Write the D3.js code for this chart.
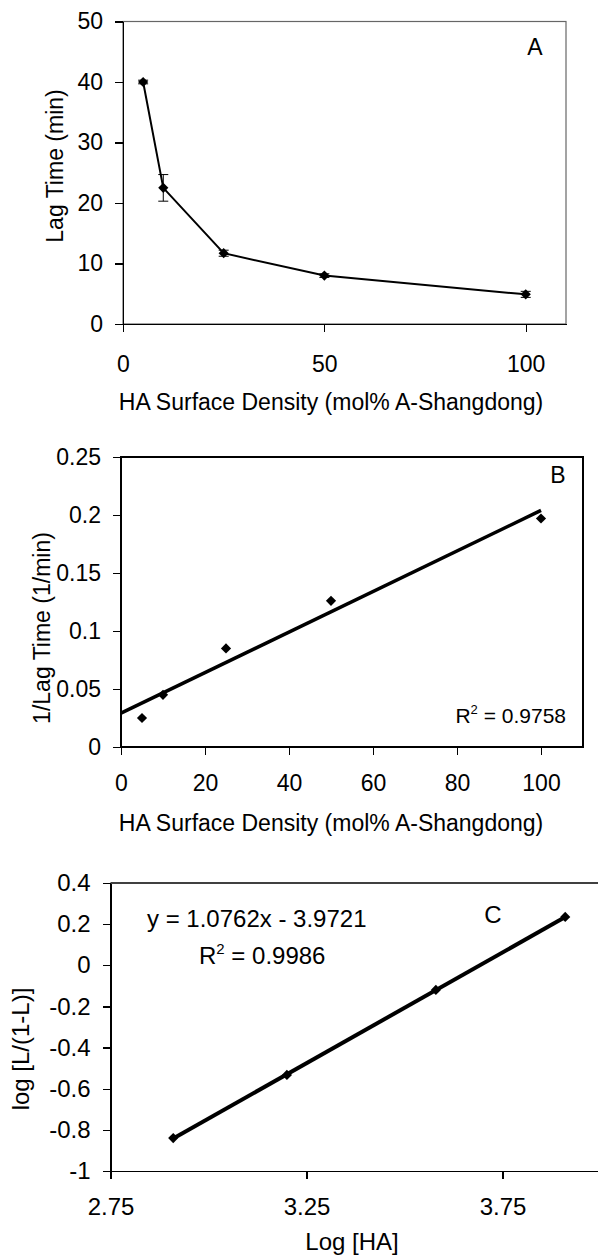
<!DOCTYPE html>
<meta charset="utf-8">
<head>
<title>Lag time vs HA surface density</title>
<style>
  body { margin: 0; background: #fff; }
  text { font-family: "Liberation Sans", Arial, sans-serif; fill: #000; }
  .axis text { font-size: 23px; }
  .axis path, .axis line { stroke: #000; stroke-width: 1.2px; shape-rendering: crispEdges; }
  .title { font-size: 23px; }
</style>
</head>
<body>
<svg width="598" height="1257"></svg>
<script src="https://cdn.jsdelivr.net/npm/d3@7"></script>
<script>

// panel A - lag time vs surface density
var densityA = [5, 10, 25, 50, 100];
var lagTime  = [40, 22.5, 11.7, 8.0, 4.9];
var lagErr   = [0.3, 2.2, 0.5, 0.3, 0.5];
var ticksAx  = [0, 50, 100];
var ticksAy  = [0, 10, 20, 30, 40, 50];

// panel B - 1/lag time with linear fit
var densityB = [5, 10, 25, 50, 100];
var invLag   = [0.025, 0.045, 0.085, 0.126, 0.197];
var ticksBx  = [0, 20, 40, 60, 80, 100];
var ticksBy  = [0, 0.05, 0.1, 0.15, 0.2, 0.25];

// panel C - log plot
var logHA    = [2.91, 3.20, 3.58, 3.91];
var logL     = [-0.84, -0.533, -0.12, 0.235];
var ticksCx  = [2.75, 3.25, 3.75];
var ticksCy  = [-1, -0.8, -0.6, -0.4, -0.2, 0, 0.2, 0.4];

var svg = d3.select("svg");
var diamond = d3.symbol().type(d3.symbolSquare).size(52);

// least squares fit -> [slope, intercept]
function fit(xs, ys) {
  var mx = d3.mean(xs), my = d3.mean(ys), sxy = 0, sxx = 0;
  xs.forEach(function(x, i) { sxy += (x - mx) * (ys[i] - my); sxx += (x - mx) * (x - mx); });
  var m = sxy / sxx;
  return [m, my - m * mx];
}

function axes(g, x, y, tx, ty, bottom, pad) {
  g.append("g").attr("class", "axis")
    .attr("transform", "translate(0," + bottom + ")")
    .call(d3.axisBottom(x).tickValues(tx).tickSize(8).tickSizeOuter(0).tickPadding(pad).tickFormat(String));
  g.append("g").attr("class", "axis")
    .attr("transform", "translate(" + x.range()[0] + ",0)")
    .call(d3.axisLeft(y).tickValues(ty).tickSize(8).tickSizeOuter(0).tickPadding(12).tickFormat(String));
}

// ---------- A ----------
var xA = d3.scaleLinear().domain([0, 110]).range([123, 566]);
var yA = d3.scaleLinear().domain([0, 50]).range([324, 21.5]);
var gA = svg.append("g");

gA.append("rect").attr("x", 123).attr("y", 21.5).attr("width", 443).attr("height", 302.5)
  .attr("fill", "none").attr("stroke", "#666").attr("stroke-width", 1.2);
axes(gA, xA, yA, ticksAx, ticksAy, 324, 24);

var ptsA = densityA.map(function(d, i) { return [d, lagTime[i], lagErr[i]]; });

// error bars
var eb = gA.selectAll(".err").data(ptsA).enter().append("g").attr("class", "err");
eb.append("line")
  .attr("x1", function(d) { return xA(d[0]); }).attr("x2", function(d) { return xA(d[0]); })
  .attr("y1", function(d) { return yA(d[1] - d[2]); }).attr("y2", function(d) { return yA(d[1] + d[2]); })
  .attr("stroke", "#000").attr("stroke-width", 1);
[-1, 1].forEach(function(s) {
  eb.append("line")
    .attr("x1", function(d) { return xA(d[0]) - 5; }).attr("x2", function(d) { return xA(d[0]) + 5; })
    .attr("y1", function(d) { return yA(d[1] + s * d[2]); }).attr("y2", function(d) { return yA(d[1] + s * d[2]); })
    .attr("stroke", "#000").attr("stroke-width", 1);
});

gA.append("path").datum(ptsA)
  .attr("d", d3.line().x(function(d) { return xA(d[0]); }).y(function(d) { return yA(d[1]); }))
  .attr("fill", "none").attr("stroke", "#000").attr("stroke-width", 2);

gA.selectAll(".pt").data(ptsA).enter().append("path")
  .attr("d", diamond)
  .attr("transform", function(d) { return "translate(" + xA(d[0]) + "," + yA(d[1]) + ") rotate(45)"; });

gA.append("text").attr("class", "title").attr("x", 535).attr("y", 55).attr("text-anchor", "middle").text("A");
gA.append("text").attr("class", "title").attr("x", 331).attr("y", 410).attr("text-anchor", "middle")
  .text("HA Surface Density (mol% A-Shangdong)");
gA.append("text").attr("class", "title").attr("transform", "translate(63,166) rotate(-90)")
  .attr("text-anchor", "middle").text("Lag Time (min)");

// ---------- B ----------
var xB = d3.scaleLinear().domain([0, 110]).range([121, 583]);
var yB = d3.scaleLinear().domain([0, 0.25]).range([747, 457]);
var gB = svg.append("g");

gB.append("rect").attr("x", 121).attr("y", 457).attr("width", 462).attr("height", 290)
  .attr("fill", "none").attr("stroke", "#000").attr("stroke-width", 2);
axes(gB, xB, yB, ticksBx, ticksBy, 747, 20);

var fB = fit(densityB, invLag);
gB.append("line")
  .attr("x1", xB(0)).attr("y1", yB(fB[1]))
  .attr("x2", xB(100)).attr("y2", yB(fB[0] * 100 + fB[1]))
  .attr("stroke", "#000").attr("stroke-width", 3.5);

gB.selectAll(".pt").data(densityB).enter().append("path")
  .attr("d", diamond)
  .attr("transform", function(d, i) { return "translate(" + xB(d) + "," + yB(invLag[i]) + ") rotate(45)"; });

gB.append("text").attr("class", "title").attr("x", 558).attr("y", 483).attr("text-anchor", "middle").text("B");
var r2B = gB.append("text").attr("x", 566).attr("y", 723).attr("text-anchor", "end").style("font-size", "21px");
r2B.append("tspan").text("R");
r2B.append("tspan").attr("dy", -9).style("font-size", "13px").text("2");
r2B.append("tspan").attr("dy", 9).text(" = 0.9758");
gB.append("text").attr("class", "title").attr("x", 331).attr("y", 831).attr("text-anchor", "middle")
  .text("HA Surface Density (mol% A-Shangdong)");
gB.append("text").attr("class", "title").attr("transform", "translate(50,628) rotate(-90)")
  .attr("text-anchor", "middle").text("1/Lag Time (1/min)");

// ---------- C ----------
// plot area runs past the right edge of the page, so no right border shows
var xC = d3.scaleLinear().domain([2.75, 4.25]).range([110.5, 698.5]);
var yC = d3.scaleLinear().domain([-1, 0.4]).range([1171, 883]);
var gC = svg.append("g");

gC.append("line").attr("x1", 110.5).attr("x2", 698.5).attr("y1", 883).attr("y2", 883)
  .attr("stroke", "#000").attr("stroke-width", 1.5);
axes(gC, xC, yC, ticksCx, ticksCy, 1171, 19);
gC.selectAll(".axis text").style("font-size", "24px");

var fC = fit(logHA, logL);
var x0 = d3.min(logHA), x1 = d3.max(logHA);
gC.append("line")
  .attr("x1", xC(x0)).attr("y1", yC(fC[0] * x0 + fC[1]))
  .attr("x2", xC(x1)).attr("y2", yC(fC[0] * x1 + fC[1]))
  .attr("stroke", "#000").attr("stroke-width", 4);

gC.selectAll(".pt").data(logHA).enter().append("path")
  .attr("d", diamond)
  .attr("transform", function(d, i) { return "translate(" + xC(d) + "," + yC(logL[i]) + ") rotate(45)"; });

gC.append("text").attr("x", 147).attr("y", 927).style("font-size", "24px").text("y = 1.0762x - 3.9721");
var r2C = gC.append("text").attr("x", 199).attr("y", 964).style("font-size", "24px");
r2C.append("tspan").text("R");
r2C.append("tspan").attr("dy", -10).style("font-size", "15px").text("2");
r2C.append("tspan").attr("dy", 10).text(" = 0.9986");
gC.append("text").attr("x", 493).attr("y", 923).attr("text-anchor", "middle").style("font-size", "24px").text("C");
gC.append("text").attr("x", 352).attr("y", 1250).attr("text-anchor", "middle").style("font-size", "24px").text("Log [HA]");
gC.append("text").attr("transform", "translate(29,1049) rotate(-90)")
  .attr("text-anchor", "middle").style("font-size", "24px").text("log [L/(1-L)]");

</script>
</body>
</html>
